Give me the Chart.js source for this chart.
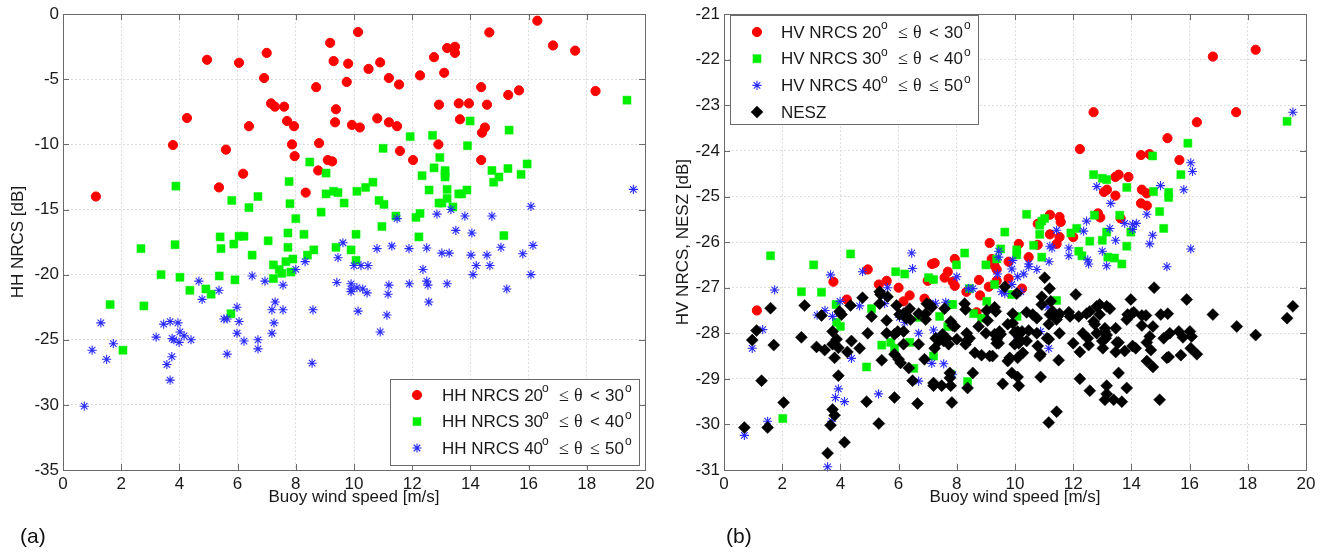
<!DOCTYPE html>
<html>
<head>
<meta charset="utf-8">
<script src="https://cdn.jsdelivr.net/npm/chart.js@4.4.1/dist/chart.umd.min.js"></script>
<style>
  body { margin: 0; background: #fff; width: 1330px; height: 552px; position: relative; overflow: hidden; }
  canvas { position: absolute; top: 0; }
  #hh { left: 0; }
  #hv { left: 665px; }
  .tag { position: absolute; top: 524px; font: 21px 'Liberation Sans', Arial, sans-serif; color: #111; }
</style>
</head>
<body>
<canvas id="hh" width="665" height="552"></canvas>
<canvas id="hv" width="665" height="552"></canvas>
<div class="tag" style="left:20px">(a)</div>
<div class="tag" style="left:726px">(b)</div>
<script>
// axis ticks
const windTicks = [0, 2, 4, 6, 8, 10, 12, 14, 16, 18, 20];
const hhTicks = [0, -5, -10, -15, -20, -25, -30, -35];
const hvTicks = [-21, -22, -23, -24, -25, -26, -27, -28, -29, -30, -31];

// (a) HH NRCS vs buoy wind speed, [wind, dB]
const hh20 = [[1.13,-14.0],[3.78,-10.05],[4.26,-7.97],[4.95,-3.5],[5.36,-13.3],[5.6,-10.4],[6.05,-3.73],[6.19,-12.25],[6.39,-8.6],[6.91,-4.9],
  [7.0,-2.97],[7.15,-6.85],[7.28,-7.1],[7.6,-7.1],[7.7,-8.2],[7.87,-10.0],[7.94,-8.6],[7.96,-10.9],[8.34,-13.7],[8.7,-5.6],
  [8.77,-12.0],[8.8,-9.9],[9.1,-11.2],[9.18,-2.2],[9.25,-11.3],[9.3,-3.6],[9.35,-8.3],[9.38,-7.3],[9.75,-5.2],[9.8,-3.8],
  [9.93,-8.5],[10.14,-1.37],[10.2,-8.7],[10.5,-4.2],[10.8,-8.0],[10.9,-3.7],[11.2,-4.9],[11.2,-8.3],[11.48,-8.6],[11.55,-5.4],
  [11.58,-10.5],[12.03,-11.2],[12.27,-4.7],[12.75,-3.3],[12.9,-10.0],[12.92,-6.95],[13.1,-4.5],[13.2,-2.6],[13.47,-2.5],[13.47,-2.97],
  [13.6,-6.85],[13.64,-8.07],[13.95,-6.85],[14.37,-5.6],[14.37,-11.2],[14.4,-9.1],[14.5,-8.7],[14.57,-6.95],[14.65,-1.4],[15.3,-6.2],
  [15.67,-5.85],[16.3,-0.5],[16.84,-2.4],[17.6,-2.8],[18.3,-5.9]];
const hh30 = [[1.62,-22.3],[2.06,-25.8],[2.68,-18.0],[2.78,-22.4],[3.37,-20.0],[3.85,-17.7],[3.88,-13.2],[4.02,-20.2],[4.36,-21.2],[4.91,-21.1],
  [5.09,-21.5],[5.37,-20.1],[5.4,-17.1],[5.43,-18.0],[5.77,-23.0],[5.8,-14.3],[5.87,-17.65],[5.91,-20.4],[6.05,-17.05],[6.22,-17.05],
  [6.39,-14.85],[6.5,-18.5],[6.7,-14.0],[7.05,-17.4],[7.23,-19.25],[7.23,-20.3],[7.43,-19.6],[7.52,-19.9],[7.66,-19.0],[7.73,-16.8],
  [7.73,-17.9],[7.77,-12.85],[7.8,-14.55],[7.83,-19.8],[7.9,-18.8],[8.0,-15.7],[8.28,-16.9],[8.4,-18.5],[8.48,-11.35],[8.62,-18.1],
  [8.87,-15.2],[9.04,-12.2],[9.04,-13.8],[9.3,-13.6],[9.38,-17.9],[9.45,-13.7],[9.66,-14.5],[9.9,-18.1],[10.07,-16.9],[10.07,-18.9],
  [10.1,-13.6],[10.4,-13.3],[10.65,-12.9],[10.86,-14.3],[10.96,-16.3],[11.0,-10.3],[11.03,-14.6],[11.44,-15.5],[11.93,-9.4],[12.13,-15.6],
  [12.23,-17.1],[12.27,-15.3],[12.34,-12.4],[12.58,-13.5],[12.7,-9.3],[12.75,-11.8],[12.92,-14.5],[12.95,-11.0],[13.02,-14.5],[13.13,-12.0],
  [13.13,-12.25],[13.13,-12.5],[13.2,-13.45],[13.2,-14.15],[13.4,-14.8],[13.6,-13.8],[13.7,-13.8],[13.88,-13.5],[13.9,-10.1],[13.99,-8.2],
  [14.74,-12.0],[14.8,-12.9],[14.98,-12.5],[15.15,-17.0],[15.29,-11.85],[15.33,-8.9],[15.74,-12.3],[15.95,-11.5],[19.38,-6.6]];
const hh40 = [[0.73,-30.1],[1.0,-25.8],[1.3,-23.7],[1.5,-26.5],[1.73,-25.3],[3.2,-24.8],[3.46,-23.8],[3.57,-26.9],[3.68,-23.6],[3.68,-28.1],
  [3.74,-26.3],[3.75,-24.9],[3.81,-25.0],[3.95,-23.7],[3.99,-25.2],[4.02,-24.4],[4.16,-24.7],[4.4,-25.0],[4.67,-20.5],[4.78,-21.9],
  [5.36,-21.2],[5.53,-23.4],[5.64,-23.4],[5.64,-26.1],[5.98,-22.5],[5.98,-24.5],[6.05,-23.6],[6.22,-25.1],[6.5,-20.1],[6.7,-25.0],
  [6.7,-25.7],[6.94,-20.5],[7.18,-22.7],[7.18,-24.5],[7.25,-23.7],[7.29,-22.1],[7.56,-20.8],[7.56,-22.7],[8.0,-19.6],[8.32,-19.0],
  [8.56,-26.8],[8.59,-22.7],[9.41,-20.6],[9.45,-18.7],[9.62,-17.55],[9.9,-20.7],[9.9,-21.1],[9.9,-21.3],[10.0,-19.3],[10.1,-21.0],
  [10.14,-22.8],[10.24,-19.3],[10.3,-21.1],[10.45,-21.4],[10.48,-19.3],[10.79,-18.0],[10.9,-24.4],[11.13,-23.1],[11.17,-21.5],[11.2,-20.8],
  [11.3,-17.8],[11.48,-15.7],[11.89,-18.0],[11.9,-20.7],[12.37,-19.6],[12.5,-17.95],[12.5,-20.5],[12.54,-20.8],[12.57,-22.1],[12.85,-15.35],
  [13.02,-18.35],[13.2,-20.7],[13.27,-18.35],[13.33,-15.0],[13.5,-16.6],[13.81,-15.5],[14.02,-18.5],[14.05,-16.8],[14.09,-20.0],[14.2,-19.3],
  [14.57,-18.5],[14.67,-19.3],[14.74,-15.5],[15.05,-17.9],[15.25,-21.1],[15.8,-18.4],[16.08,-14.75],[16.08,-20.0],[16.15,-17.75],[19.6,-13.45]];

// (b) HV NRCS and NESZ vs buoy wind speed, [wind, dB]
const hv20 = [[1.13,-27.5],[3.76,-26.87],[4.22,-27.26],[4.94,-26.6],[5.32,-26.93],[5.59,-26.85],[6.0,-27.0],[6.17,-27.3],[6.38,-27.17],[6.89,-27.24],
  [7.0,-26.85],[7.15,-26.48],[7.24,-26.46],[7.58,-26.78],[7.69,-26.65],[7.86,-26.87],[7.93,-26.37],[7.93,-26.96],[8.33,-27.09],[8.68,-27.54],
  [8.76,-26.83],[8.8,-27.17],[9.1,-26.98],[9.13,-26.02],[9.2,-26.37],[9.3,-26.52],[9.37,-26.6],[9.37,-26.85],[9.78,-26.43],[9.78,-26.8],
  [10.13,-26.04],[10.24,-27.02],[10.47,-26.33],[10.78,-25.6],[10.78,-26.06],[11.2,-25.4],[11.2,-25.83],[11.43,-26.04],[11.53,-25.45],[11.53,-25.89],
  [11.57,-25.56],[12.0,-25.89],[12.23,-23.96],[12.7,-23.15],[12.85,-25.37],[12.93,-25.46],[13.06,-24.9],[13.16,-24.85],[13.45,-24.57],[13.45,-24.98],
  [13.56,-24.52],[13.63,-25.48],[13.9,-24.57],[14.33,-24.09],[14.33,-25.15],[14.36,-24.85],[14.53,-24.93],[14.53,-25.2],[14.62,-24.07],[15.24,-23.72],
  [15.65,-24.2],[16.25,-23.37],[16.8,-21.93],[17.6,-23.15],[18.27,-21.78]];
const hv30 = [[1.6,-26.3],[2.02,-29.87],[2.66,-27.09],[3.08,-26.5],[3.35,-27.1],[3.85,-27.37],[3.87,-27.76],[4.0,-27.85],[4.35,-26.26],[4.9,-28.74],
  [5.07,-27.46],[5.42,-28.26],[5.73,-28.2],[5.86,-28.33],[5.9,-26.65],[6.21,-26.7],[6.38,-28.2],[6.52,-28.77],[6.68,-27.65],[7.03,-26.78],
  [7.2,-26.82],[7.2,-28.5],[7.41,-27.63],[7.69,-27.85],[7.76,-27.37],[7.79,-28.9],[7.86,-27.37],[7.99,-26.5],[8.27,-26.24],[8.37,-29.06],
  [8.44,-27.02],[8.58,-27.57],[8.85,-27.67],[9.0,-26.5],[9.03,-27.3],[9.3,-26.93],[9.37,-26.37],[9.51,-26.15],[9.65,-25.78],[9.89,-27.15],
  [10.06,-26.17],[10.06,-26.28],[10.07,-27.63],[10.4,-25.39],[10.64,-26.07],[10.85,-25.63],[10.85,-25.83],[10.92,-25.54],[10.92,-26.33],[11.02,-25.48],
  [11.43,-27.28],[11.92,-25.8],[12.12,-25.7],[12.19,-26.2],[12.3,-26.3],[12.57,-25.98],[12.7,-24.52],[12.73,-25.41],[13.0,-24.6],[13.0,-25.96],
  [13.15,-24.63],[13.15,-25.78],[13.19,-26.33],[13.42,-26.35],[13.6,-25.41],[13.67,-26.48],[13.84,-24.8],[13.84,-26.09],[13.98,-25.78],[14.73,-24.11],
  [14.76,-24.89],[14.97,-25.33],[15.11,-25.7],[15.28,-24.91],[15.28,-25.02],[15.7,-24.52],[15.94,-23.83],[19.35,-23.35]];
const hv40 = [[0.7,-30.24],[0.97,-28.33],[1.33,-27.92],[1.5,-29.93],[1.74,-27.05],[3.2,-27.6],[3.47,-27.5],[3.56,-30.93],[3.66,-26.72],[3.7,-29.93],
  [3.73,-27.63],[3.83,-29.41],[3.93,-29.22],[3.99,-27.3],[4.14,-29.5],[4.38,-28.55],[4.66,-27.4],[4.76,-26.65],[5.31,-29.33],[5.52,-27.35],
  [5.62,-27.0],[6.03,-27.65],[6.21,-27.76],[6.45,-26.24],[6.48,-26.58],[6.69,-28.0],[6.69,-29.05],[7.14,-28.66],[7.2,-27.93],[7.27,-27.34],
  [7.55,-28.67],[7.62,-27.32],[7.86,-28.9],[8.0,-26.76],[8.4,-27.02],[8.55,-27.02],[9.4,-26.7],[9.44,-26.2],[9.44,-26.33],[9.54,-27.09],
  [9.65,-27.13],[9.89,-26.59],[9.89,-26.93],[9.92,-26.4],[10.09,-26.76],[10.09,-28.1],[10.2,-27.09],[10.3,-26.7],[10.47,-26.48],[10.47,-26.54],
  [10.75,-26.6],[10.88,-27.96],[11.13,-27.43],[11.16,-28.33],[11.17,-26.43],[11.2,-26.09],[11.27,-26.13],[11.43,-25.74],[11.85,-26.13],[11.85,-26.3],
  [12.36,-25.76],[12.46,-25.54],[12.5,-26.39],[12.53,-26.48],[12.81,-24.78],[13.0,-26.2],[13.15,-26.52],[13.26,-25.7],[13.29,-25.15],[13.46,-25.96],
  [13.77,-25.59],[14.04,-25.61],[14.04,-25.72],[14.17,-25.59],[14.53,-25.39],[14.63,-26.04],[14.73,-25.85],[15.0,-24.76],[15.22,-26.54],[15.8,-24.85],
  [16.04,-24.26],[16.04,-26.15],[16.1,-24.45],[19.55,-23.15]];
const nesz = [[0.7,-30.07],[0.97,-28.15],[1.12,-27.94],[1.29,-29.04],[1.5,-30.07],[1.6,-27.45],[1.71,-28.26],[2.05,-29.52],[2.66,-28.09],[2.77,-27.39],
  [3.18,-28.3],[3.35,-27.61],[3.46,-28.37],[3.56,-30.63],[3.66,-30.02],[3.73,-29.67],[3.8,-29.8],[3.73,-27.96],[3.73,-28.24],[3.8,-28.54],
  [3.87,-28.13],[3.93,-28.93],[3.93,-28.32],[3.97,-27.52],[4.04,-27.59],[4.14,-30.39],[4.24,-28.41],[4.35,-27.39],[4.38,-28.17],[4.66,-28.33],
  [4.76,-27.22],[4.9,-29.5],[4.94,-28.0],[5.07,-27.63],[5.32,-29.98],[5.35,-27.09],[5.38,-27.15],[5.35,-27.35],[5.42,-28.59],[5.59,-27.72],
  [5.62,-27.2],[5.59,-28.0],[5.86,-28.46],[5.86,-29.41],[5.93,-27.39],[5.97,-27.96],[6.0,-28.57],[6.07,-28.65],[6.03,-27.59],[6.17,-27.57],
  [6.27,-27.67],[6.41,-27.7],[6.17,-27.96],[6.35,-28.76],[6.38,-27.46],[6.48,-29.04],[6.65,-29.54],[6.69,-28.24],[6.69,-27.57],[6.89,-28.57],
  [6.93,-27.57],[6.97,-27.35],[7.07,-27.37],[7.14,-27.43],[7.2,-29.09],[7.2,-29.15],[7.24,-28.33],[7.27,-28.11],[7.48,-29.15],[7.58,-27.46],
  [7.65,-28.11],[7.72,-28.24],[7.76,-28.87],[7.76,-28.98],[7.79,-29.15],[7.83,-29.52],[7.79,-27.74],[7.86,-27.83],[7.93,-27.85],[8.0,-28.13],
  [8.27,-27.35],[8.3,-27.48],[8.3,-28.24],[8.37,-29.2],[8.34,-28.17],[8.44,-28.11],[8.55,-28.87],[8.62,-28.43],[8.85,-28.48],[8.75,-27.85],
  [9.03,-27.5],[9.06,-27.72],[9.13,-28.5],[9.23,-28.5],[9.3,-27.43],[9.34,-27.52],[9.37,-28.13],[9.47,-27.96],[9.51,-28.02],[9.58,-29.11],
  [9.65,-26.98],[9.75,-27.8],[9.82,-28.54],[5.86,-28.02],[6.17,-28.24],[6.93,-27.7],[7.38,-28.17],[7.51,-28.02],[7.55,-28.17],[8.34,-28.0],
  [9.0,-28.0],[9.3,-28.02],[9.37,-28.22],[9.75,-28.61],[9.89,-28.87],[9.92,-27.57],[9.99,-28.24],[10.16,-28.13],[10.4,-28.17],[9.99,-27.98],
  [10.13,-28.02],[10.27,-28.43],[10.61,-27.59],[10.75,-27.67],[10.75,-28.0],[10.85,-28.5],[10.92,-27.37],[11.2,-27.59],[11.3,-27.52],[11.47,-27.63],
  [11.53,-27.57],[11.43,-27.7],[11.53,-28.0],[11.23,-27.3],[12.23,-28.41],[12.23,-29.0],[12.57,-29.26],[13.0,-28.17],[9.44,-28.0],[9.44,-28.22],
  [9.92,-27.78],[10.09,-27.96],[10.13,-28.22],[10.09,-28.54],[10.09,-28.96],[10.13,-29.15],[10.06,-27.13],[10.4,-27.54],[10.24,-27.96],[10.47,-27.94],
  [10.78,-28.28],[10.88,-28.46],[10.88,-28.96],[10.92,-27.2],[11.02,-26.78],[11.19,-27.02],[11.16,-29.96],[11.43,-29.72],[11.16,-27.8],[11.1,-28.11],
  [11.16,-28.13],[11.5,-28.59],[11.85,-27.54],[11.89,-27.63],[12.0,-28.22],[12.09,-27.15],[12.19,-27.63],[12.33,-28.0],[12.46,-27.57],[12.57,-27.52],
  [12.5,-28.11],[12.53,-28.26],[12.7,-27.74],[12.74,-27.8],[12.81,-28.0],[12.81,-27.41],[12.91,-27.37],[12.91,-27.59],[13.02,-28.33],[13.09,-27.89],
  [13.09,-27.96],[13.15,-28.04],[13.12,-28.11],[13.15,-29.15],[13.15,-29.33],[13.09,-29.46],[13.39,-29.46],[13.67,-29.5],[13.15,-27.41],[13.26,-27.46],
  [13.46,-27.89],[13.5,-28.2],[13.46,-28.41],[13.56,-28.2],[13.56,-28.87],[13.77,-28.39],[13.84,-29.2],[13.84,-27.7],[13.87,-27.59],[13.98,-27.26],
  [14.01,-27.57],[14.08,-27.54],[14.04,-28.28],[14.15,-28.33],[14.36,-27.83],[14.36,-27.61],[14.5,-27.61],[14.53,-28.2],[14.53,-28.61],[14.74,-28.74],
  [14.67,-28.37],[14.74,-27.85],[14.63,-28.07],[14.78,-27.0],[14.97,-29.46],[15.01,-27.59],[15.11,-28.11],[15.22,-28.54],[15.28,-28.52],[15.25,-27.57],
  [15.32,-28.0],[15.63,-27.96],[15.77,-28.09],[15.7,-28.48],[15.9,-27.26],[16.01,-27.96],[16.07,-28.07],[16.04,-28.33],[16.25,-28.46],[16.8,-27.59],
  [17.62,-27.85],[18.27,-28.04],[19.35,-27.67],[19.55,-27.41]];

const FONT = "'Liberation Sans', Arial, sans-serif";
const SERIF = "'Liberation Serif', 'Times New Roman', serif";
const INK = '#1a1a1a';

// marker looks, close to the MATLAB ones
const markRed = { pointStyle: 'circle', radius: 4.6, fill: '#ff0000', stroke: '#ff0000', bw: 1 };
const markGreen = { pointStyle: 'rect', radius: 5.7, fill: '#00f000', stroke: '#00f000', bw: 0.5 };
const markBlue = { pointStyle: 'star', radius: 4.6, fill: 'rgba(0,0,0,0)', stroke: '#2a2aff', bw: 1.1 };
const markBlack = { pointStyle: 'rectRot', radius: 6, fill: '#000', stroke: '#000', bw: 0.5 };

function series(label, pts, m, order) {
  return {
    label,
    data: pts.map(p => ({ x: p[0], y: p[1] })),
    pointStyle: m.pointStyle,
    pointRadius: m.radius,
    pointBackgroundColor: m.fill,
    pointBorderColor: m.stroke,
    pointBorderWidth: m.bw,
    showLine: false,
    clip: false,
    order
  };
}

// box, inward tick marks on all four sides
const framePlugin = {
  id: 'frame',
  afterDatasetsDraw(chart) {
    const { ctx, chartArea: a, scales: { x, y } } = chart;
    ctx.save();
    ctx.strokeStyle = '#6a6a6a';
    ctx.lineWidth = 1;
    ctx.beginPath();
    x.ticks.forEach(t => {
      const px = Math.round(x.getPixelForValue(t.value)) + 0.5;
      ctx.moveTo(px, a.bottom); ctx.lineTo(px, a.bottom - 6);
      ctx.moveTo(px, a.top); ctx.lineTo(px, a.top + 6);
    });
    y.ticks.forEach(t => {
      const py = Math.round(y.getPixelForValue(t.value)) + 0.5;
      ctx.moveTo(a.left, py); ctx.lineTo(a.left + 6, py);
      ctx.moveTo(a.right, py); ctx.lineTo(a.right - 6, py);
    });
    ctx.stroke();
    ctx.strokeRect(Math.round(a.left) + 0.5, Math.round(a.top) + 0.5,
      Math.round(a.right - a.left), Math.round(a.bottom - a.top));
    ctx.restore();
  }
};

// legend with superscript degree "o" like the MATLAB tex labels
const boxLegend = {
  id: 'boxLegend',
  afterDraw(chart, args, opts) {
    if (!opts.rows) return;
    const { ctx } = chart;
    const [bx, by, bw, bh] = opts.box;
    ctx.save();
    ctx.fillStyle = '#fff';
    ctx.fillRect(bx, by, bw, bh);
    ctx.strokeStyle = '#6a6a6a';
    ctx.lineWidth = 1;
    ctx.strokeRect(bx + 0.5, by + 0.5, bw, bh);
    opts.rows.forEach((row, i) => {
      const cy = opts.y0 + i * opts.dy;
      const m = row.mark;
      ctx.fillStyle = m.fill;
      ctx.strokeStyle = m.stroke;
      ctx.lineWidth = m.bw;
      Chart.helpers.drawPoint(ctx, { pointStyle: m.pointStyle, radius: m.radius, rotation: 0, borderWidth: m.bw }, opts.mx, cy);
      ctx.fillStyle = INK;
      ctx.textBaseline = 'middle';
      ctx.textAlign = 'left';
      row.segs.forEach(s => {
        if (s.sup) {
          ctx.font = '12px ' + FONT;
          ctx.fillText(s.t, opts.tx + s.dx, cy - 6);
        } else {
          ctx.font = (s.serif ? '18px ' + SERIF : '17px ' + FONT);
          ctx.fillText(s.t, opts.tx + s.dx, cy + 1);
        }
      });
    });
    ctx.restore();
  }
};

// spacing of the tex pieces as MATLAB lays them out
function segs(name, lo, rel, hi) {
  return [{ t: name + ' ' + lo, dx: 0 }, { t: 'o', sup: true, dx: 100 }, { t: '\u2264', serif: true, dx: 117 },
    { t: '\u03b8', serif: true, dx: 132 }, { t: rel, serif: rel !== '<', dx: 148 }, { t: hi, dx: 163 }, { t: 'o', sup: true, dx: 183 }];
}

function axes(yMin, yMax, yStep, yTitle, yWidth) {
  return {
    x: {
      type: 'linear', min: 0, max: 20,
      afterBuildTicks: s => { s.ticks = windTicks.map(v => ({ value: v })); },
      afterFit: s => { s.height = 82; },
      grid: { color: '#dcdcdc', drawTicks: false },
      border: { display: false, dash: [2, 2] },
      ticks: { color: INK, font: { family: FONT, size: 17 }, padding: 4, maxRotation: 0 },
      title: { display: true, text: 'Buoy wind speed [m/s]', color: INK, font: { family: FONT, size: 17 }, padding: { top: 0, bottom: 44 } }
    },
    y: {
      type: 'linear', min: yMin, max: yMax,
      afterBuildTicks: s => {
        const t = [];
        for (let v = yMax; v >= yMin; v -= yStep) t.push({ value: v });
        s.ticks = t;
      },
      afterFit: s => { s.width = yWidth; },
      grid: { color: '#dcdcdc', drawTicks: false },
      border: { display: false, dash: [2, 2] },
      ticks: { color: INK, font: { family: FONT, size: 17 }, padding: 4 },
      title: { display: true, text: yTitle, color: INK, font: { family: FONT, size: 17 }, padding: { top: 8, bottom: 0 } }
    }
  };
}

function baseOptions(scales, padRight, legend) {
  return {
    responsive: false,
    animation: false,
    devicePixelRatio: 1,
    layout: { padding: { left: 0, right: padRight, top: 10, bottom: 0 } },
    scales,
    plugins: { legend: { display: false }, tooltip: { enabled: false }, boxLegend: legend }
  };
}

new Chart(document.getElementById('hh'), {
  type: 'scatter',
  data: {
    datasets: [
      series('HH NRCS 20-30', hh20, markRed, 3),
      series('HH NRCS 30-40', hh30, markGreen, 2),
      series('HH NRCS 40-50', hh40, markBlue, 1)
    ]
  },
  options: baseOptions(axes(-35, 0, 5, 'HH NRCS [dB]', 63), 20, {
    box: [390, 379, 249, 86], mx: 417, tx: 442, y0: 395, dy: 26.5,
    rows: [
      { mark: markRed, segs: segs('HH NRCS', '20', '<', '30') },
      { mark: markGreen, segs: segs('HH NRCS', '30', '<', '40') },
      { mark: markBlue, segs: segs('HH NRCS', '40', '\u2264', '50') }
    ]
  }),
  plugins: [framePlugin, boxLegend]
});

new Chart(document.getElementById('hv'), {
  type: 'scatter',
  data: {
    datasets: [
      series('HV NRCS 20-30', hv20, markRed, 4),
      series('HV NRCS 30-40', hv30, markGreen, 3),
      series('HV NRCS 40-50', hv40, markBlue, 2),
      series('NESZ', nesz, markBlack, 1)
    ]
  },
  options: baseOptions(axes(-31, -21, 1, 'HV NRCS, NESZ [dB]', 59), 24, {
    box: [65, 15, 248, 109], mx: 92, tx: 116, y0: 32, dy: 26.7,
    rows: [
      { mark: markRed, segs: segs('HV NRCS', '20', '<', '30') },
      { mark: markGreen, segs: segs('HV NRCS', '30', '<', '40') },
      { mark: markBlue, segs: segs('HV NRCS', '40', '\u2264', '50') },
      { mark: markBlack, segs: [{ t: 'NESZ', dx: 0 }] }
    ]
  }),
  plugins: [framePlugin, boxLegend]
});
</script>
</body>
</html>
